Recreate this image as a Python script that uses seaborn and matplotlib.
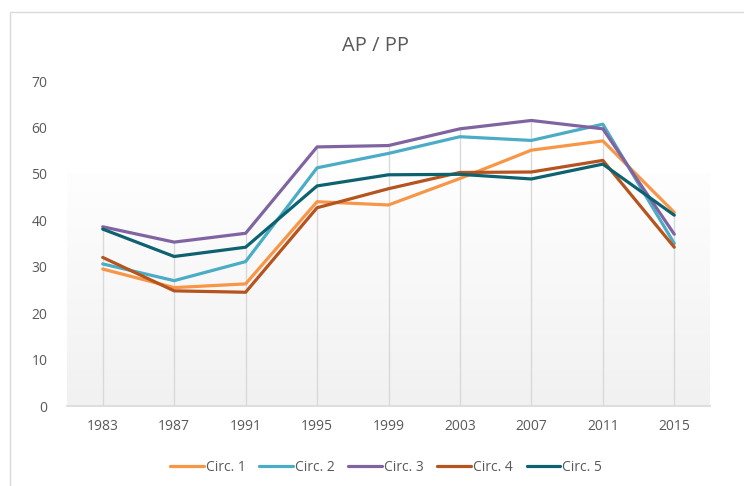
import numpy as np
import pandas as pd
import matplotlib
matplotlib.use("Agg")
import matplotlib.pyplot as plt
import seaborn as sns
from matplotlib.patches import Rectangle

# Values
years = ["1983", "1987", "1991", "1995", "1999", "2003", "2007", "2011", "2015"]
circ1 = [29.5, 25.5, 26.3, 44.0, 43.3, 49.0, 55.1, 57.1, 41.7]
circ2 = [30.6, 27.0, 31.1, 51.3, 54.4, 58.0, 57.2, 60.7, 35.0]
circ3 = [38.6, 35.3, 37.2, 55.8, 56.1, 59.7, 61.5, 59.7, 37.0]
circ4 = [32.0, 24.8, 24.5, 42.7, 46.8, 50.3, 50.4, 52.9, 34.2]
circ5 = [38.1, 32.2, 34.2, 47.4, 49.8, 49.9, 48.9, 52.1, 41.1]
series_names = ["Circ. 1", "Circ. 2", "Circ. 3", "Circ. 4", "Circ. 5"]
colors = ["#F79646", "#4BACC6", "#8064A2", "#B5541F", "#0E6270"]

def build_df():
    df = pd.DataFrame({"Year": years, "Circ. 1": circ1, "Circ. 2": circ2,
                       "Circ. 3": circ3, "Circ. 4": circ4, "Circ. 5": circ5})
    return df.melt(id_vars="Year", var_name="Series", value_name="Value")

def plot_chart(df):
    sns.set_style("white")
    plt.rcParams['font.family'] = ['Open Sans', 'DejaVu Sans']
    text_col = "#595959"

    fig = plt.figure(figsize=(7.44, 4.86), dpi=100)
    fig.patches.append(Rectangle((10 / 744, -0.05), 1.0, 1 - 12 / 486 + 0.05,
                                 transform=fig.transFigure, fill=False,
                                 edgecolor="#D9D9D9", linewidth=1))
    ax = fig.add_axes([67 / 744, 1 - 406 / 486, 643 / 744, 325 / 486])

    # light gradient in the lower part of the plot area
    grad = np.linspace(0, 1, 256).reshape(-1, 1)
    ax.imshow(grad, extent=(-0.5, len(years) - 0.5, 0, 50), origin="upper",
              cmap=matplotlib.colors.LinearSegmentedColormap.from_list(
                  "g", ["#FEFEFE", "#F1F1F1"]),
              aspect="auto", zorder=0)

    # drop lines from the highest value down to the axis
    wide = df.pivot(index="Year", columns="Series", values="Value").loc[years]
    ax.vlines(np.arange(len(years)), 0, wide.max(axis=1).values,
              color="#D9D9D9", linewidth=1, zorder=1)

    sns.lineplot(data=df, x="Year", y="Value", hue="Series",
                 hue_order=series_names, palette=colors, linewidth=2.3,
                 sort=False, ax=ax, zorder=3)

    ax.set_xlim(-0.5, len(years) - 0.5)
    ax.set_ylim(0, 70)
    ax.set_yticks(range(0, 71, 10))
    ax.set_xlabel("")
    ax.set_ylabel("")
    for s in ["top", "right", "left"]:
        ax.spines[s].set_visible(False)
    ax.spines["bottom"].set_color("#D9D9D9")
    ax.spines["bottom"].set_linewidth(1.2)
    ax.tick_params(axis="both", length=0, labelsize=10, colors=text_col)
    ax.tick_params(axis="x", pad=9)
    ax.tick_params(axis="y", pad=14)

    fig.text(375 / 744, 1 - 46 / 486, "AP / PP", ha="center", va="center",
             fontsize=14.5, color=text_col)

    handles, labels = ax.get_legend_handles_labels()
    ax.legend_.remove()
    fig.legend(handles, labels, loc="center", bbox_to_anchor=(386 / 744, 1 - 467 / 486),
               ncol=5, frameon=False, fontsize=10, labelcolor=text_col,
               handlelength=2.4, handletextpad=0.15, columnspacing=1.0)

    fig.savefig("out.png", dpi=100)

def main():
    plot_chart(build_df())

main()
